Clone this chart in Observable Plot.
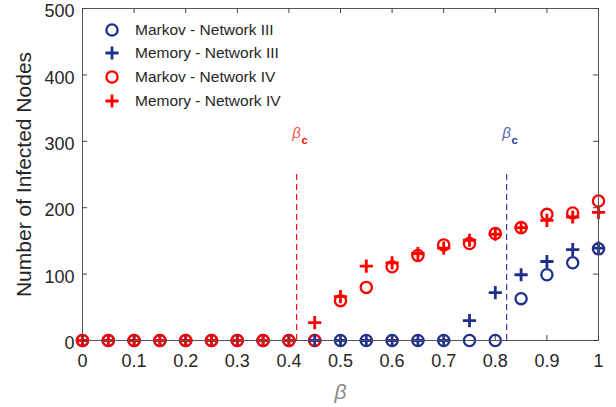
<!DOCTYPE html>
<html><head><meta charset="utf-8">
<script src="https://cdn.jsdelivr.net/npm/d3@7"></script>
<script src="https://cdn.jsdelivr.net/npm/@observablehq/plot@0.6"></script>
<style>
body{margin:0;background:#fff;}
#wrap{position:relative;width:616px;height:407px;font-family:"Liberation Sans",Arial,sans-serif;}
#legend{position:absolute;left:98px;top:18px;}
.row{position:relative;height:23.6px;display:flex;align-items:center;font-size:15.5px;color:#262626;white-space:nowrap;}
.row svg{width:28px;height:20px;margin-right:9px;}
</style></head><body><div id="wrap"><div id="legend"></div></div>
<script>
const beta = [0,0.05,0.1,0.15,0.2,0.25,0.3,0.35,0.4,0.45,0.5,0.55,0.6,0.65,0.7,0.75,0.8,0.85,0.9,0.95,1];
const markovIII = [0,0,0,0,0,0,0,0,0,0,0,0,0,0,0,0,0,63,99,117,138];
const memoryIII = [0,0,0,0,0,0,0,0,0,0,0,0,0,0,0,30,72,99,119,137,139];
const markovIV  = [0,0,0,0,0,0,0,0,0,0,60,80,111,128,144,146,161,170,190,192,210];
const memoryIV  = [0,0,0,0,0,0,0,0,0,27,66,112,117,131,139,151,160,170,181,186,193];
const seriesNames = ["Markov - Network III","Memory - Network III","Markov - Network IV","Memory - Network IV"];
const betaC = [0.415, 0.822];
const betaCTop = 250;
const xTicks = [0,0.1,0.2,0.3,0.4,0.5,0.6,0.7,0.8,0.9,1];
const yTicks = [0,100,200,300,400,500];

const BLUE = "#1f2f8f", RED = "#ff0000";
const W = 616, H = 407, mL = 82, mR = 18, mT = 8, mB = 67;
const TL = 5; // tick length px
const tx = TL / (W - mL - mR);        // in x data units
const ty = TL * 500 / (H - mT - mB);  // in y data units

const rows = arr => beta.map((b, i) => ({b, v: arr[i]}));
const plusSym = {draw(ctx, size){ const r = Math.sqrt(size / Math.PI); ctx.moveTo(-r,0); ctx.lineTo(r,0); ctx.moveTo(0,-r); ctx.lineTo(0,r); }};
const circ = (arr, c) => Plot.dot(rows(arr), {x:"b", y:"v", r:5.6, stroke:c, strokeWidth:2.3, fill:"none"});
const plus = (arr, c) => Plot.dot(rows(arr), {x:"b", y:"v", r:6.6, symbol:plusSym, stroke:c, strokeWidth:2.8, fill:"none"});
const cData = betaC.map((b, i) => ({b, top: betaCTop, c: i === 0 ? RED : BLUE, lc: i === 0 ? "#ff5050" : "#5565b0"}));

const chart = Plot.plot({
  width: W, height: H, marginLeft: mL, marginRight: mR, marginTop: mT, marginBottom: mB,
  x: {domain: [0, 1]}, y: {domain: [0, 500]},
  style: {fontFamily: "Liberation Sans, Arial, sans-serif", fontSize: "18px", color: "#262626", background: "white", overflow: "visible"},
  marks: [
    Plot.ruleX(cData, {x: "b", y1: 0, y2: "top", stroke: "c", strokeWidth: 1.1, strokeDasharray: "6,4"}),
    Plot.text(cData, {x: "b", y: "top", text: () => "β", fill: "lc", fontStyle: "italic", fontSize: 15, dx: 0, dy: -41}),
    Plot.text(cData, {x: "b", y: "top", text: () => "c", fill: "c", fontSize: 11, fontWeight: "bold", dx: 8, dy: -34}),
    circ(markovIII, BLUE),
    circ(markovIV, RED),
    plus(memoryIII, BLUE),
    plus(memoryIV, RED),
    Plot.frame({stroke: "#555", strokeWidth: 1}),
    Plot.ruleX(xTicks, {x: d => d, y1: 0, y2: ty, stroke: "#444"}),
    Plot.ruleX(xTicks, {x: d => d, y1: 500 - ty, y2: 500, stroke: "#444"}),
    Plot.ruleY(yTicks, {y: d => d, x1: 0, x2: tx, stroke: "#444"}),
    Plot.ruleY(yTicks, {y: d => d, x1: 1 - tx, x2: 1, stroke: "#444"}),
    Plot.axisX(xTicks, {tickSize: 0, tickPadding: 14, fontSize: 18, label: null, tickFormat: d => String(+d.toFixed(1))}),
    Plot.axisY(yTicks, {tickSize: 0, tickPadding: 8, dy: 3, fontSize: 18, label: null}),
    Plot.text(["Number of Infected Nodes"], {frameAnchor: "left", textAnchor: "middle", lineAnchor: "middle", rotate: -90, dx: -58, fontSize: 21, fill: "#262626"}),
    Plot.text(["β"], {frameAnchor: "bottom", textAnchor: "middle", lineAnchor: "middle", dy: 52, fontStyle: "italic", fontSize: 21, fill: "#8a8a8a"})
  ]
});
document.getElementById("wrap").prepend(chart);

const legendSpec = [
  {name: seriesNames[0], c: BLUE, sym: "circle"},
  {name: seriesNames[1], c: BLUE, sym: "plus"},
  {name: seriesNames[2], c: RED, sym: "circle"},
  {name: seriesNames[3], c: RED, sym: "plus"}
];
const lg = d3.select("#legend");
for (const s of legendSpec) {
  const row = lg.append("div").attr("class", "row");
  const svg = row.append("svg");
  if (s.sym === "circle") svg.append("circle").attr("cx", 14).attr("cy", 10).attr("r", 5.6).attr("fill", "none").attr("stroke", s.c).attr("stroke-width", 2.3);
  else svg.append("path").attr("d", "M7.4,10H20.6M14,3.4V16.6").attr("stroke", s.c).attr("stroke-width", 2.8).attr("fill", "none");
  row.append("span").text(s.name);
}
</script></body></html>
